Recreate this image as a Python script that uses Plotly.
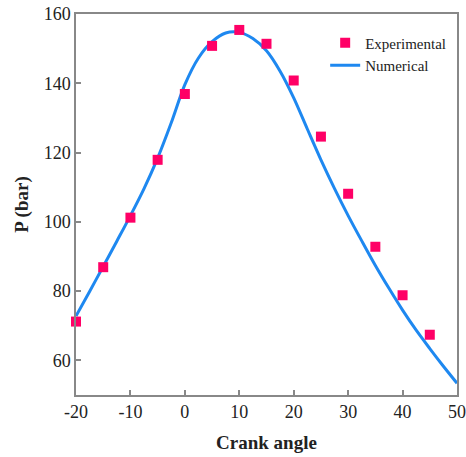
import plotly.graph_objects as go

exp_angle = [-20, -15, -10, -5, 0, 5, 10, 15, 20, 25, 30, 35, 40, 45]
exp_pressure = [71.2, 86.9, 101.2, 117.9, 136.9, 150.8, 155.4, 151.4, 140.8, 124.6, 108.1, 92.8, 78.8, 67.4]

num_angle = [-20, -17.5, -15, -12.5, -10, -7.5, -5, -2.5, 0, 2.5, 5, 7.5, 10, 12.5, 15,
             17.5, 20, 22.5, 25, 27.5, 30, 32.5, 35, 37.5, 40, 42.5, 45, 47.5, 50]
num_pressure = [72.8, 79.9, 87.1, 94.4, 101.8, 109.6, 118.4, 128.6, 139.6, 147.3, 152.0, 154.5,
                154.7, 152.9, 149.4, 143.5, 135.8, 126.8, 117.9, 109.6, 101.8, 94.5, 87.4,
                80.8, 74.5, 68.7, 63.4, 58.3, 53.4]

x_ticks = [-20, -10, 0, 10, 20, 30, 40, 50]
x_tick_text = ["-20", "-10", "0", "10", "20", "30", "40", "50"]
y_ticks = [60, 80, 100, 120, 140, 160]

fig = go.Figure()
fig.add_trace(go.Scatter(
    x=num_angle, y=num_pressure, mode="lines", name="Numerical",
    line=dict(color="#1E88F0", width=3, shape="spline", smoothing=0.9),
    cliponaxis=False,
))
fig.add_trace(go.Scatter(
    x=exp_angle, y=exp_pressure, mode="markers", name="Experimental",
    marker=dict(symbol="square", color="#FF0066", size=10, line=dict(width=0)),
    cliponaxis=False,
))

axis_common = dict(
    showline=True, linecolor="#888888", linewidth=1.5, mirror=True,
    ticks="inside", ticklen=5, tickcolor="#888888", tickwidth=1.5,
    showgrid=False, zeroline=False, automargin=False,
    tickfont=dict(family="Liberation Serif", size=18, color="#222222"),
)

fig.update_layout(
    width=466, height=457,
    margin=dict(l=76, r=9, t=14, b=62),
    plot_bgcolor="white", paper_bgcolor="white",
    showlegend=True,
    legend=dict(
        x=0.654, y=0.967, xanchor="left", yanchor="top",
        traceorder="reversed",
        font=dict(family="Liberation Serif", size=15, color="#222222"),
        bgcolor="rgba(0,0,0,0)", tracegroupgap=0,
    ),
    xaxis=dict(
        range=[-20, 50], tickvals=x_ticks, ticktext=x_tick_text,
        title=dict(text="<b>Crank angle</b>", standoff=14,
                   font=dict(family="Liberation Serif", size=19, color="#222222")),
        **axis_common,
    ),
    yaxis=dict(
        range=[50, 160], tickvals=y_ticks,
        title=dict(text="<b>P (bar)</b>", standoff=10,
                   font=dict(family="Liberation Serif", size=19, color="#222222")),
        **axis_common,
    ),
)

fig.write_html("out.html")
